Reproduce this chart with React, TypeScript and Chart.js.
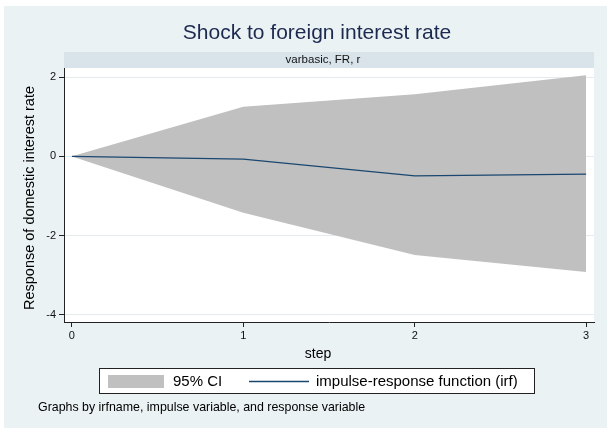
import React, { useEffect, useRef } from "react";
import { Chart, registerables } from "chart.js";

Chart.register(...registerables);

const steps = [0, 1, 2, 3];
const irf = [0, -0.07, -0.49, -0.45];
const ciUpper = [0, 1.25, 1.57, 2.05];
const ciLower = [0, -1.42, -2.49, -2.92];
const xTicks = [0, 1, 2, 3];
const yTicks = [-4, -2, 0, 2];

const titleText = "Shock to foreign interest rate";
const stripText = "varbasic, FR, r";
const yTitle = "Response of domestic interest rate";
const xTitle = "step";
const ciLabel = "95% CI";
const irfLabel = "impulse-response function (irf)";
const noteText = "Graphs by irfname, impulse variable, and response variable";

const FONT = "'Liberation Sans', Arial, Helvetica, sans-serif";
const BG = "#EAF2F3";
const STRIP = "#D8E4EA";
const CI = "#C0C0C0";
const LINE = "#1A476F";
const TITLE = "#1C2A50";

const decor = {
  id: "decor",
  beforeDraw(chart: any) {
    const ctx = chart.ctx;
    const a = chart.chartArea;
    ctx.save();
    ctx.fillStyle = "#ffffff";
    ctx.fillRect(0, 0, chart.width, chart.height);
    ctx.fillStyle = BG;
    ctx.fillRect(4, 6, chart.width - 4, chart.height - 6);
    ctx.fillStyle = "#ffffff";
    ctx.fillRect(a.left, a.top, a.right - a.left, a.bottom - a.top);
    ctx.fillStyle = STRIP;
    ctx.fillRect(a.left, a.top - 16, a.right - a.left, 16);
    ctx.fillStyle = "#111";
    ctx.font = `11.5px ${FONT}`;
    ctx.textAlign = "center";
    ctx.textBaseline = "middle";
    ctx.fillText(stripText, 323, a.top - 8);
    ctx.fillStyle = TITLE;
    ctx.font = `21px ${FONT}`;
    ctx.fillText(titleText, 317, 33);
    ctx.restore();
  },
  afterDraw(chart: any) {
    const ctx = chart.ctx;
    ctx.save();
    ctx.fillStyle = "#000";
    ctx.textBaseline = "middle";
    ctx.textAlign = "center";
    ctx.font = `14px ${FONT}`;
    ctx.fillText(xTitle, 318, 354);
    ctx.save();
    ctx.translate(30, 198);
    ctx.rotate(-Math.PI / 2);
    ctx.font = `14.5px ${FONT}`;
    ctx.fillText(yTitle, 0, 0);
    ctx.restore();
    // legend
    ctx.fillStyle = "#ffffff";
    ctx.fillRect(99.5, 368.5, 435, 25);
    ctx.strokeStyle = "#222";
    ctx.lineWidth = 1;
    ctx.strokeRect(99.5, 368.5, 435, 25);
    ctx.fillStyle = CI;
    ctx.fillRect(108, 375, 56, 13);
    ctx.strokeStyle = LINE;
    ctx.lineWidth = 1.3;
    ctx.beginPath();
    ctx.moveTo(249, 381.5);
    ctx.lineTo(309, 381.5);
    ctx.stroke();
    ctx.fillStyle = "#000";
    ctx.textAlign = "left";
    ctx.font = `15px ${FONT}`;
    ctx.fillText(ciLabel, 173, 382);
    ctx.fillText(irfLabel, 316, 382);
    ctx.font = `12.4px ${FONT}`;
    ctx.fillText(noteText, 38, 408);
    ctx.restore();
  },
};

export default function App() {
  const ref = useRef<HTMLCanvasElement>(null);
  useEffect(() => {
    if (!ref.current) return;
    const chart = new Chart(ref.current, {
      type: "line",
      data: {
        labels: steps,
        datasets: [
          {
            label: "upper",
            data: steps.map((s, i) => ({ x: s, y: ciUpper[i] })),
            borderWidth: 0,
            borderColor: CI,
            backgroundColor: CI,
            pointRadius: 0,
            fill: "+1",
            tension: 0,
            order: 2,
          },
          {
            label: "lower",
            data: steps.map((s, i) => ({ x: s, y: ciLower[i] })),
            borderWidth: 0,
            borderColor: CI,
            backgroundColor: CI,
            pointRadius: 0,
            fill: false,
            tension: 0,
            order: 2,
          },
          {
            label: "irf",
            data: steps.map((s, i) => ({ x: s, y: irf[i] })),
            borderWidth: 1.3,
            borderColor: LINE,
            pointRadius: 0,
            fill: false,
            tension: 0,
            order: 1,
          },
        ],
      },
      plugins: [decor],
      options: {
        responsive: false,
        animation: false,
        devicePixelRatio: 1,
        layout: { padding: { left: 4, top: 68, right: 13, bottom: 86 } },
        plugins: {
          legend: { display: false },
          tooltip: { enabled: false },
          title: { display: false },
        },
        scales: {
          x: {
            type: "linear",
            min: -0.046,
            max: 3.046,
            afterBuildTicks: (s: any) => {
              s.ticks = xTicks.map((v) => ({ value: v }));
            },
            afterFit: (s: any) => {
              s.height = 20;
            },
            grid: {
              drawOnChartArea: false,
              drawTicks: true,
              tickLength: 5,
              tickColor: "#222",
            },
            border: { display: true, color: "#222", width: 1 },
            ticks: {
              color: "#111",
              font: { family: FONT, size: 11 },
              padding: 2,
              maxRotation: 0,
              autoSkip: false,
            },
          },
          y: {
            type: "linear",
            min: -4.18,
            max: 2.23,
            afterBuildTicks: (s: any) => {
              s.ticks = yTicks.map((v) => ({ value: v }));
            },
            afterFit: (s: any) => {
              s.width = 60;
            },
            grid: {
              drawOnChartArea: true,
              color: "#E3EBED",
              drawTicks: true,
              tickLength: 5,
              tickColor: "#222",
            },
            border: { display: true, color: "#222", width: 1 },
            ticks: {
              color: "#111",
              font: { family: FONT, size: 11 },
              padding: 3,
              autoSkip: false,
            },
          },
        },
      },
    } as any);
    return () => chart.destroy();
  }, []);
  return (
    <div style={{ position: "fixed", left: 0, top: 0, width: 607, height: 428 }}>
      <canvas ref={ref} width={607} height={428} style={{ width: 607, height: 428 }} />
    </div>
  );
}
